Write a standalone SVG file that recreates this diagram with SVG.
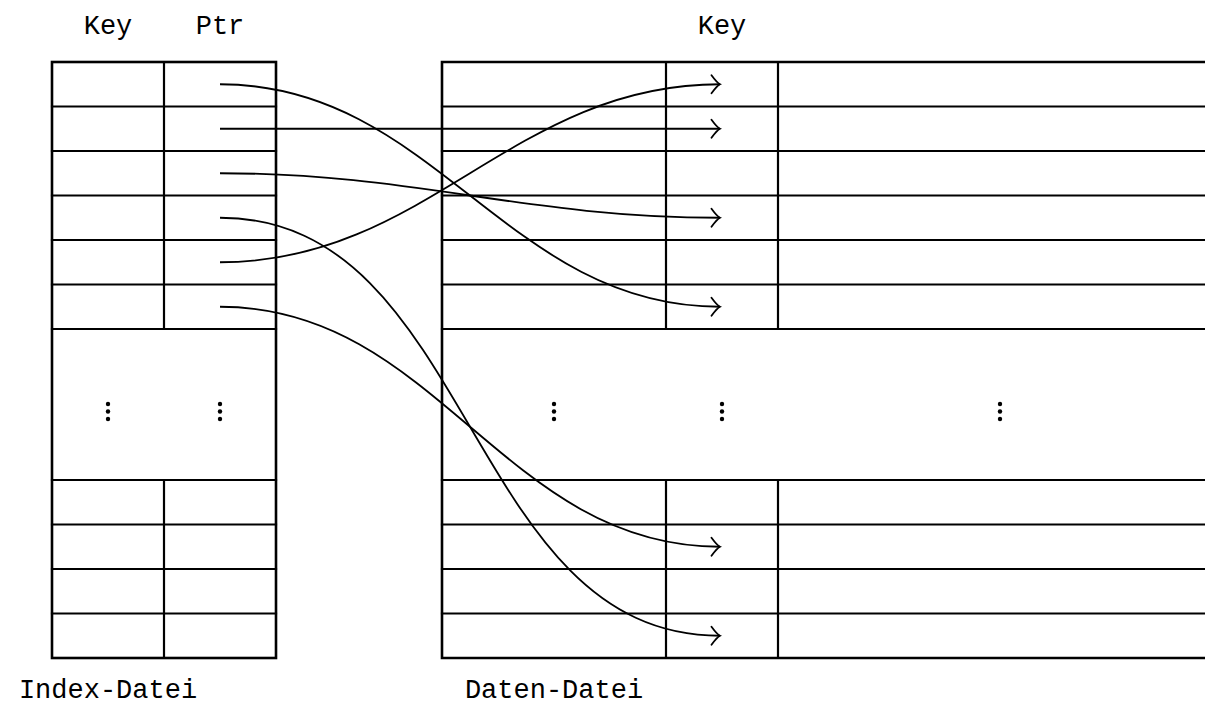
<svg xmlns="http://www.w3.org/2000/svg" width="1205" height="704" viewBox="0 0 1205 704">
<style>
.t{stroke:#000;stroke-width:2.2;fill:none;stroke-linecap:square}
.o{stroke:#000;stroke-width:2.6;fill:none}
.c{stroke:#000;stroke-width:1.8;fill:none;marker-end:url(#ah)}
.lbl{font-family:"Liberation Mono","DejaVu Sans Mono",monospace;font-size:27px;fill:#000;text-anchor:middle}
.d{fill:#000}
</style>
<defs>
<marker id="ah" markerUnits="userSpaceOnUse" orient="auto" viewBox="-11 -11 13 22" refX="0" refY="0" markerWidth="13" markerHeight="22">
<path d="M -8.5,-9 Q -3,-1.5 0,0 Q -3,1.5 -8.5,9" stroke="#000" stroke-width="1.8" fill="none" stroke-linecap="round"/>
</marker>
<g id="vdots">
<circle cx="0" cy="404" r="2.2"/><circle cx="0" cy="411.5" r="2.2"/><circle cx="0" cy="419" r="2.2"/>
</g>
</defs>
<rect width="1205" height="704" fill="#fff"/>
<g id="labels">
<text class="lbl" x="108" y="34">Key</text>
<text class="lbl" x="220" y="34">Ptr</text>
<text class="lbl" x="722" y="34">Key</text>
<text class="lbl" x="108" y="698">Index-Datei</text>
<text class="lbl" x="554" y="698">Daten-Datei</text>
</g>
<g id="index-table">
<path class="t" d="M52,106.5H276M52,151H276M52,195.5H276M52,240H276M52,284.5H276M52,329H276M52,480H276M52,524.5H276M52,569H276M52,613.5H276M164,62V329M164,480V658"/>
<rect class="o" x="52" y="62" width="224" height="596"/>
<g class="d"><use href="#vdots" x="108"/><use href="#vdots" x="220"/></g>
</g>
<g id="data-table">
<path class="t" d="M442,106.5H1205M442,151H1205M442,195.5H1205M442,240H1205M442,284.5H1205M442,329H1205M442,480H1205M442,524.5H1205M442,569H1205M442,613.5H1205M666,62V329M666,480V658M778,62V329M778,480V658"/>
<path class="o" d="M1206,62H442V658H1206"/>
<g class="d"><use href="#vdots" x="554"/><use href="#vdots" x="722"/><use href="#vdots" x="1000"/></g>
</g>
<g id="connectors">
<path class="c" d="M220,84.25C434.3,84.25 505.7,306.75 720,306.75"/>
<path class="c" d="M220,128.75H720"/>
<path class="c" d="M220,173.25C416.5,173.25 523.5,217.75 720,217.75"/>
<path class="c" d="M220,217.75C475.1,217.75 464.9,635.75 720,635.75"/>
<path class="c" d="M220,262.25C427.8,262.25 512.2,84.25 720,84.25"/>
<path class="c" d="M220,306.75C437.1,306.75 502.9,546.75 720,546.75"/>
</g>
</svg>
